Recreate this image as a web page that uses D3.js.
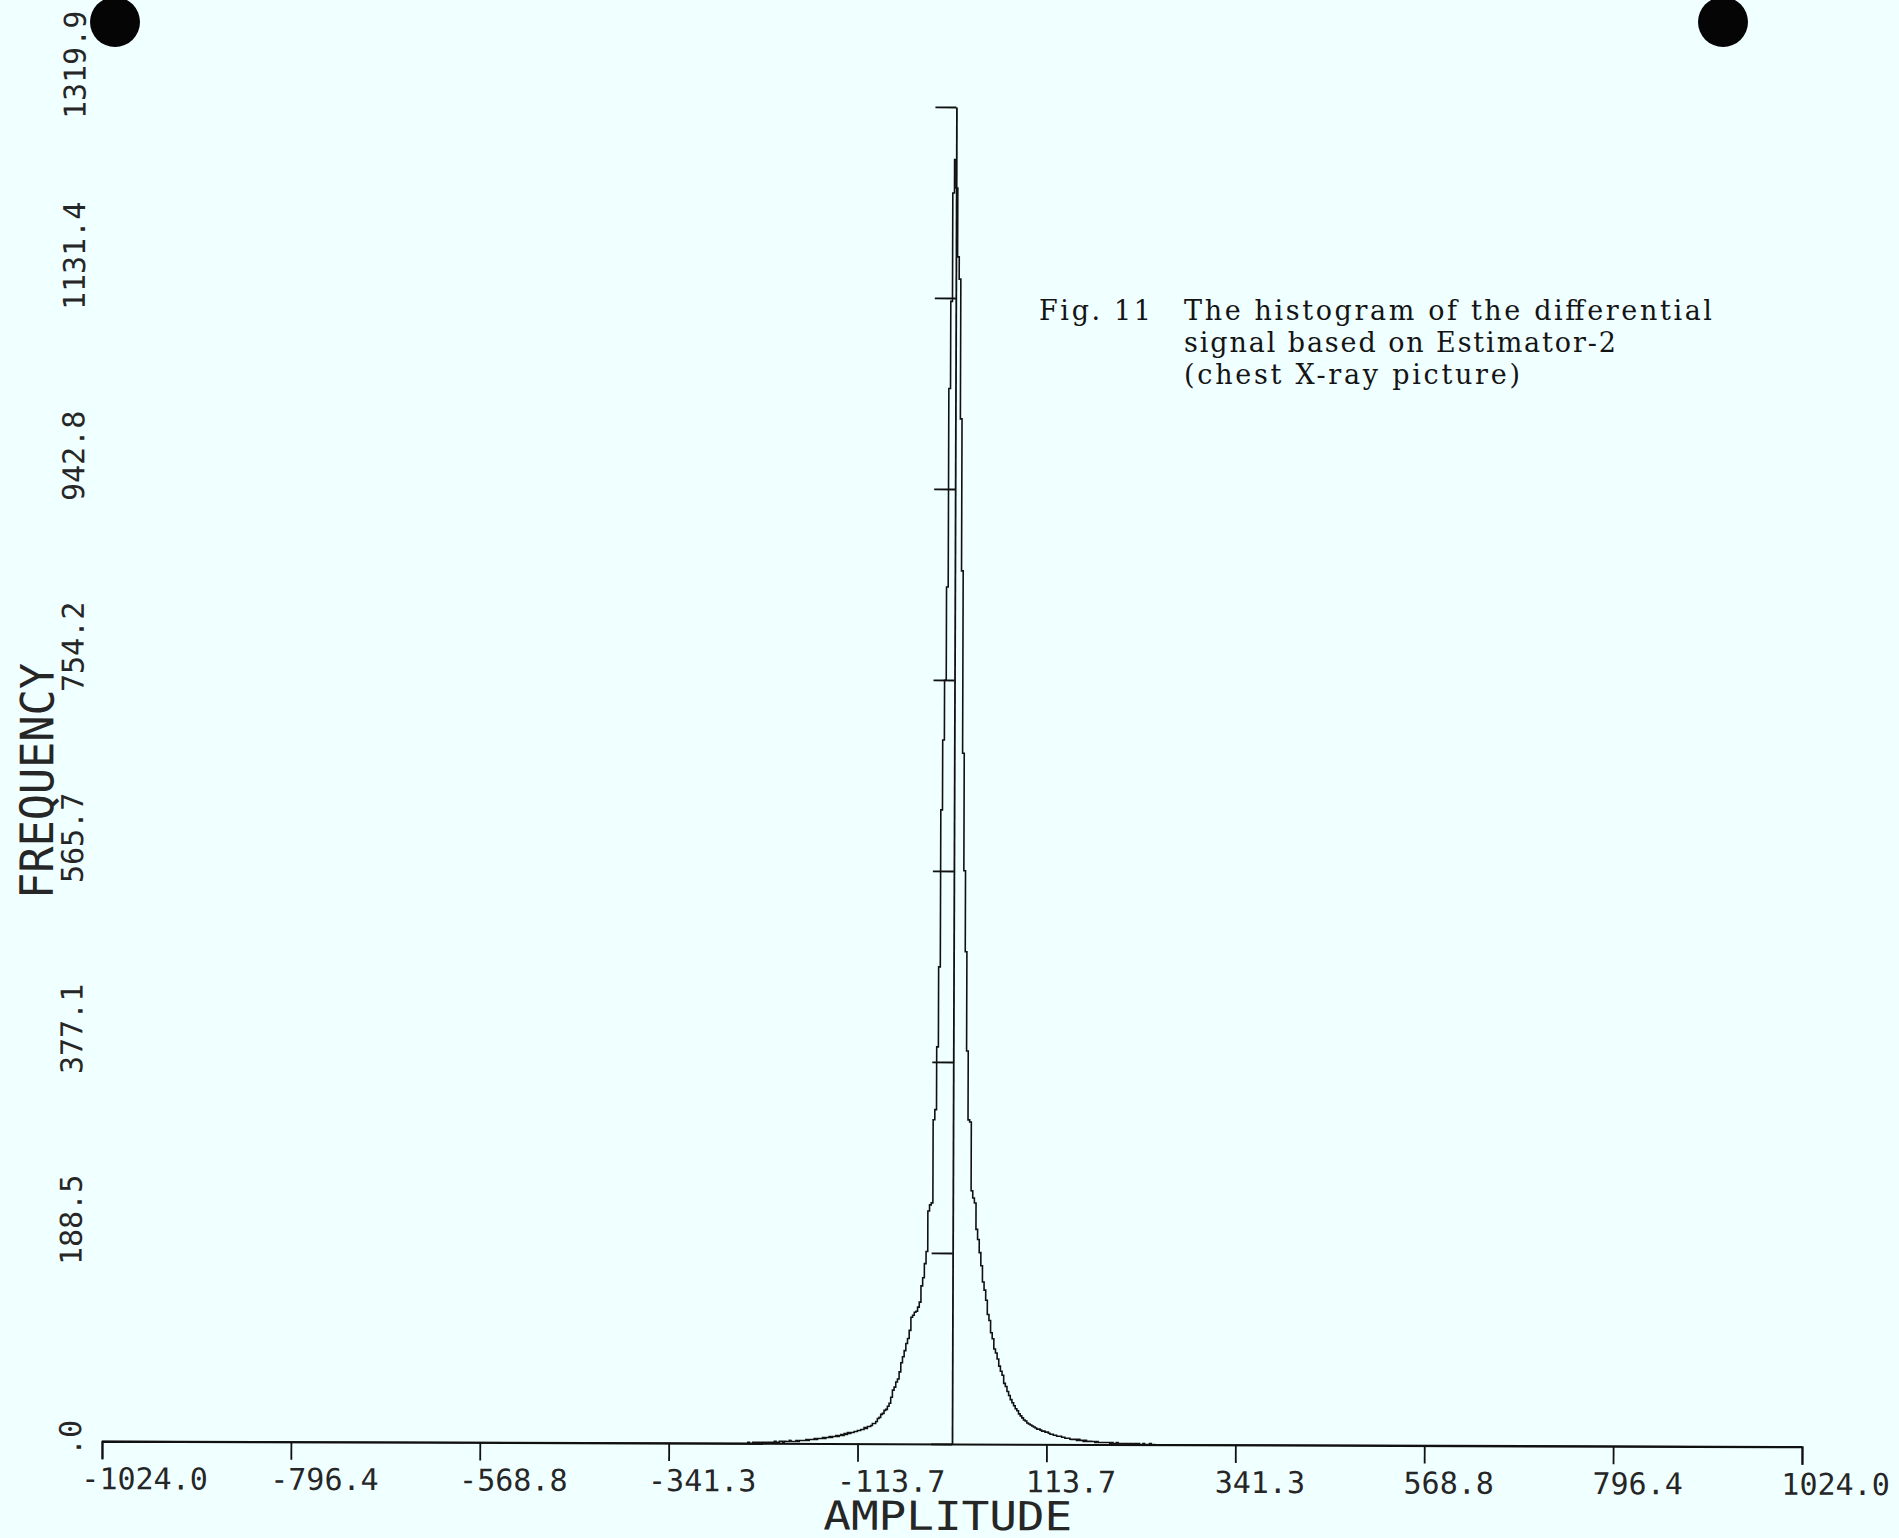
<!DOCTYPE html>
<html>
<head>
<meta charset="utf-8">
<script src="https://cdn.jsdelivr.net/npm/d3@7"></script>
<style>
  body { margin: 0; background: #f0ffff; }
  svg { display: block; }
</style>
</head>
<body>
<svg id="chart" width="1899" height="1538"></svg>
<script>
// tick values and their printed labels (plotter truncates)
var xTicks = [-1024, -796.44, -568.89, -341.33, -113.78, 113.78, 341.33, 568.89, 796.44, 1024];
var xTickLabels = ["-1024.0", "-796.4", "-568.8", "-341.3", "-113.7", "113.7", "341.3", "568.8", "796.4", "1024.0"];
var yTicks = [0, 188.56, 377.11, 565.67, 754.23, 942.79, 1131.34, 1319.9];
var yTickLabels = [".0", "188.5", "377.1", "565.7", "754.2", "942.8", "1131.4", "1319.9"];

// histogram, bins of width 2 from -250 to 250
var binWidth = 2;
var binStart = -250;
// bins -250 .. 0
var countsNeg = [0,0,1,0,0, 1,0,1,1,0,1,1,0,1,1, 1,1,1,2,1,1,2,2,1,2, 2,2,3,2,2,2,3,2,3,3,
  3,3,4,3,4,4,4,5,4,5, 5,5,6,5,6,6,7,6,7,7, 8,7,8,9,8,10,9,11,10,11,
  11,12,12,13,13,14,14,16,15,17, 17,18,20,20,22,25,26,29,30,33,
  34,37,40,46,53,56,61,64,71,80, 86,92,99,104,112,125,127,130,131,135,
  140,156,164,178,190,230,236,238,320,330, 392,471,626,695,754,846,1042,1128,1235,1268];
// bins 0 .. 250
var countsPos = [1240,1172,1150,1012,862,682,566,486,388,320,
  318,250,243,238,212,202,189,176,160,152, 142,128,122,110,104,94,90,84,77,72,
  68,60,57,52,48,44,41,38,35,33, 30,28,26,24,23,21,20,19,18,17,
  16,15,15,14,13,13,12,12,11,10, 10,9,9,8,8,8,7,7,6,6,
  6,5,5,5,5,4,5,4,4,3, 4,3,3,3,3,3,2,3,2,2,
  2,2,2,2,2,1,2,1,1,2, 1,1,1,1,1,1,0,1,1,0,
  1,0,1,0,0,1,0,0,0,1, 0,0,0,0,0];

// typed caption: [text, x, baseline y, width on the page]
var notes = [
  ["Fig. 11", 1039, 320, 112],
  ["The histogram of the differential", 1184, 320, 528],
  ["signal based on Estimator-2", 1184, 352, 432],
  ["(chest X-ray picture)", 1184, 384, 336]
];

var svg = d3.select("#chart");

// punch holes of the scanned sheet
svg.append("circle").attr("cx", 115).attr("cy", 22).attr("r", 25).attr("fill", "#050505");
svg.append("circle").attr("cx", 1723).attr("cy", 22).attr("r", 25).attr("fill", "#050505");

// the scan is a little skewed
var g = svg.append("g").attr("transform", "rotate(0.19 952 1444)");

var x = d3.scaleLinear().domain([-1024, 1024]).range([102, 1802]);
var y = d3.scaleLinear().domain([0, 1319.9]).range([1444, 107]);

var monoFont = "'DejaVu Sans Mono', 'Liberation Mono', monospace";
var ink = "#262626";

// X axis
var xAxis = g.append("g")
  .attr("transform", "translate(0," + y(0) + ")")
  .call(d3.axisBottom(x).tickValues(xTicks).tickSize(18).tickSizeOuter(18)
    .tickFormat(function(d, i) { return xTickLabels[i]; }));
xAxis.select(".domain").attr("stroke", "#111").attr("stroke-width", 2);
xAxis.selectAll(".tick line").attr("stroke", "#111").attr("stroke-width", 1.8);
xAxis.selectAll("text")
  .attr("text-anchor", "start")
  .attr("x", -21)
  .attr("y", 48)
  .attr("dy", null)
  .attr("fill", ink)
  .style("font-family", monoFont)
  .style("font-size", "30px");

// Y axis drawn at amplitude 0
var yAxis = g.append("g")
  .attr("transform", "translate(" + x(0) + ",0)")
  .call(d3.axisLeft(y).tickValues(yTicks).tickSize(21).tickSizeOuter(0).tickFormat(""));
yAxis.select(".domain").attr("stroke", "#111").attr("stroke-width", 1.8);
yAxis.selectAll(".tick line").attr("stroke", "#111").attr("stroke-width", 1.8);

// Y tick labels at the far left, rotated
g.selectAll(".ylab")
  .data(yTicks)
  .enter()
  .append("text")
  .attr("class", "ylab")
  .attr("transform", function(d) { return "translate(81," + (y(d) + 15) + ") rotate(-90)"; })
  .attr("text-anchor", "start")
  .attr("fill", ink)
  .style("font-family", monoFont)
  .style("font-size", "30px")
  .text(function(d, i) { return yTickLabels[i]; });

// histogram outline
var counts = countsNeg.concat(countsPos);
var pts = [{a: -1024, v: 0}];
counts.forEach(function(c, i) { pts.push({a: binStart + i * binWidth, v: c}); });
pts.push({a: binStart + counts.length * binWidth, v: 0});
pts.push({a: 1024, v: 0});

var line = d3.line()
  .x(function(d) { return x(d.a); })
  .y(function(d) { return y(d.v); })
  .curve(d3.curveStepAfter);

g.append("path")
  .datum(pts)
  .attr("d", line)
  .attr("fill", "none")
  .attr("stroke", "#111")
  .attr("stroke-width", 1.6);

// axis titles
g.append("text")
  .attr("transform", "translate(51,784) rotate(-90)")
  .attr("text-anchor", "middle")
  .attr("textLength", 236)
  .attr("lengthAdjust", "spacingAndGlyphs")
  .attr("fill", ink)
  .style("font-family", monoFont)
  .style("font-size", "46px")
  .text("FREQUENCY");

g.append("text")
  .attr("x", 948)
  .attr("y", 1530)
  .attr("text-anchor", "middle")
  .attr("textLength", 249)
  .attr("lengthAdjust", "spacingAndGlyphs")
  .attr("fill", ink)
  .style("font-family", monoFont)
  .style("font-size", "40px")
  .text("AMPLITUDE");

// caption, typewriter spacing
svg.selectAll(".note")
  .data(notes)
  .enter()
  .append("text")
  .attr("class", "note")
  .attr("x", function(d) { return d[1]; })
  .attr("y", function(d) { return d[2]; })
  .attr("textLength", function(d) { return d[3]; })
  .attr("lengthAdjust", "spacing")
  .attr("fill", "#141414")
  .style("font-family", "'DejaVu Serif', 'Liberation Serif', serif")
  .style("font-size", "27px")
  .text(function(d) { return d[0]; });
</script>
</body>
</html>
